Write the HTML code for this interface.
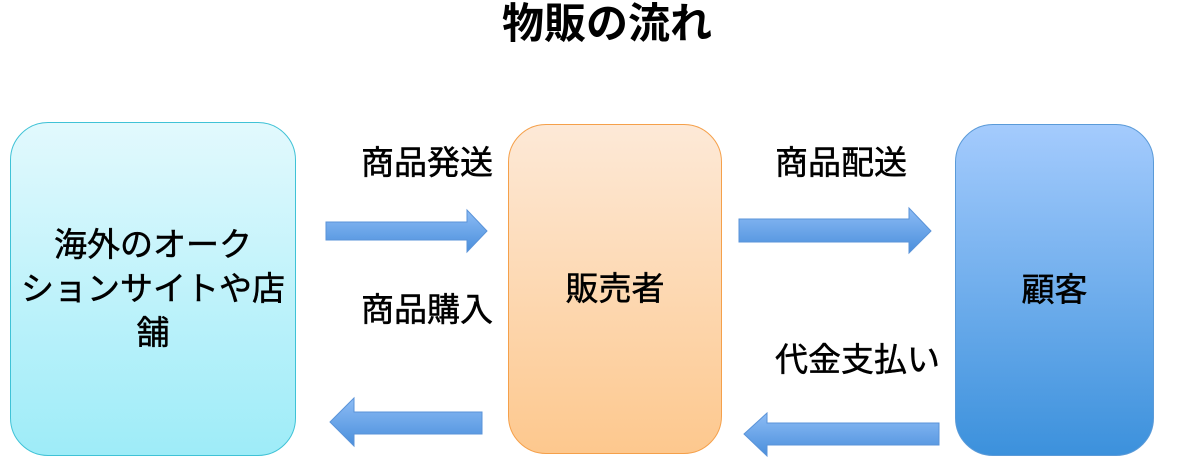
<!DOCTYPE html>
<html><head><meta charset="utf-8"><style>
body{margin:0;width:1186px;height:468px;background:#fff;position:relative;overflow:hidden;font-family:"Liberation Sans","Noto Sans CJK JP",sans-serif;}
.t{position:absolute;color:#000;white-space:nowrap;font-size:33px;line-height:40px;-webkit-text-stroke:0.5px #000;}
.box{position:absolute;border-radius:38px;display:flex;align-items:center;justify-content:center;text-align:center;font-size:33px;line-height:44px;color:#000;-webkit-text-stroke:0.5px #000;}
</style></head><body>
<div class="t" style="left:0;width:1214px;text-align:center;top:2px;font-size:42px;line-height:44px;font-weight:bold;-webkit-text-stroke:0;">物販の流れ</div>
<div class="box" style="left:10px;top:122px;width:284px;height:332px;background:linear-gradient(#e2f9fd,#9eecf8);border:1px solid #3fc2d6;"><div style="margin-top:0px">海外のオーク<br>ションサイトや店<br>舗</div></div>
<div class="box" style="left:508px;top:124px;width:212px;height:328px;background:linear-gradient(#fde9d7,#fdc88e);border:1px solid #f5a04a;">販売者</div>
<div class="box" style="left:955px;top:124px;width:197px;height:330px;background:linear-gradient(#a4cbfd,#3c91dc);border:1px solid #5a9ad8;">顧客</div>
<div class="t" style="left:361px;top:143px;">商品発送</div>
<div class="t" style="left:361px;top:290px;">商品購入</div>
<div class="t" style="left:775px;top:143px;">商品配送</div>
<div class="t" style="left:775px;top:340px;">代金支払い</div>
<svg width="1186" height="468" style="position:absolute;left:0;top:0">
<defs><linearGradient id="g" x1="0" y1="0" x2="0" y2="1"><stop offset="0" stop-color="#8dbcf5"/><stop offset="1" stop-color="#4a8fdc"/></linearGradient></defs>
<polygon points="326,222 467,222 467,210 487,231 467,252 467,240 326,240" fill="url(#g)" stroke="#5a93d8" stroke-width="1"/>
<polygon points="739,219 909,219 909,208 931,231 909,253 909,242 739,242" fill="url(#g)" stroke="#5a93d8" stroke-width="1"/>
<polygon points="482,412 354,412 354,398 330,422 354,446 354,434 482,434" fill="url(#g)" stroke="#5a93d8" stroke-width="1"/>
<polygon points="939,423 767,423 767,413 744,434 767,456 767,445 939,445" fill="url(#g)" stroke="#5a93d8" stroke-width="1"/>
</svg>
</body></html>
